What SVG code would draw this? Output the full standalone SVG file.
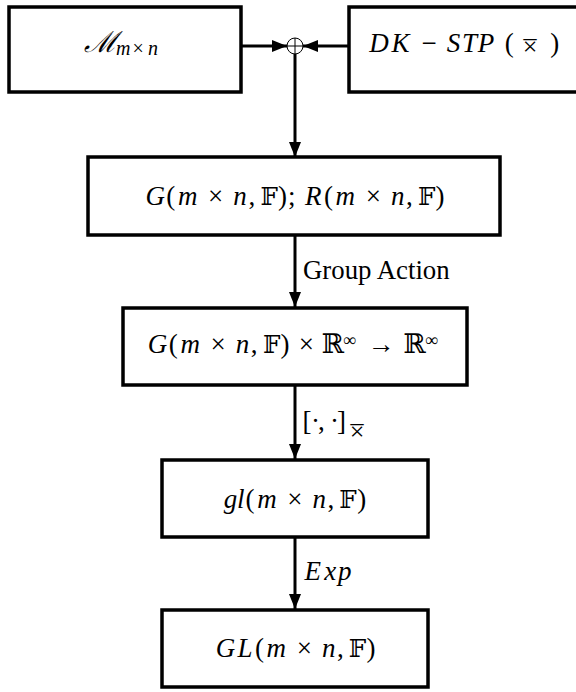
<svg xmlns="http://www.w3.org/2000/svg" width="576" height="692" viewBox="0 0 576 692">
<style>
.box{fill:#fff;stroke:#000;stroke-width:3.5}
.ln{stroke:#000;stroke-width:3;fill:none}
.m{font-family:"Liberation Serif","DejaVu Serif",serif;font-size:27px;font-style:italic;fill:#000}
.r{font-style:normal}
.bb{font-size:24.5px}
.lab{font-family:"Liberation Serif","DejaVu Serif",serif;font-size:26.8px;fill:#000}
.sym{font-family:"Liberation Serif","DejaVu Serif",serif;font-size:26px;fill:#000;text-anchor:middle}
</style>
<defs>
<marker id="ah" viewBox="0 0 15 12" refX="15" refY="6" markerWidth="15" markerHeight="12" markerUnits="userSpaceOnUse" orient="auto">
<path d="M0,0 L15,6 L0,12 z" fill="#000"/>
</marker>
</defs>
<g id="connectors">
<line class="ln" x1="241" y1="46" x2="287" y2="46" marker-end="url(#ah)"/>
<line class="ln" x1="349" y1="46" x2="303" y2="46" marker-end="url(#ah)"/>
<circle cx="295" cy="46" r="8" fill="none" stroke="#000" stroke-width="1"/>
<line x1="287" y1="46" x2="303" y2="46" stroke="#000" stroke-width="1"/>
<line x1="295" y1="38" x2="295" y2="54" stroke="#000" stroke-width="1"/>
<line class="ln" x1="295" y1="54" x2="295" y2="157" marker-end="url(#ah)"/>
<line class="ln" x1="295" y1="236" x2="295" y2="307" marker-end="url(#ah)"/>
<text class="lab" x="303" y="279">Group Action</text>
<line class="ln" x1="295" y1="386" x2="295" y2="459" marker-end="url(#ah)"/>
<text class="m r"><tspan x="302.5" y="430">[</tspan><tspan x="311">·</tspan><tspan x="318">,</tspan><tspan x="330">·</tspan><tspan x="337">]</tspan></text>
<text class="sym"><tspan x="357" y="439.5">×</tspan><tspan x="357" y="442.5">¯</tspan></text>
<line class="ln" x1="295" y1="538" x2="295" y2="609" marker-end="url(#ah)"/>
<text class="m" y="580"><tspan x="304.6">E</tspan><tspan x="324.3">x</tspan><tspan x="338">p</tspan></text>
</g>
<g id="node-M">
<rect class="box" x="9" y="7" width="232" height="85"/>
<text class="m"><tspan x="84" y="52" font-size="29">ℳ</tspan><tspan font-size="20" x="116" y="55">m</tspan><tspan class="r" font-size="20" x="132.5">×</tspan><tspan font-size="20" x="148">n</tspan></text>
</g>
<g id="node-DK">
<rect class="box" x="349" y="7" width="240" height="85"/>
<text class="m" y="52"><tspan x="369.3">D</tspan><tspan x="391.4">K</tspan><tspan class="r" x="421.5">−</tspan><tspan x="446.8">S</tspan><tspan x="462.1">T</tspan><tspan x="477.7">P</tspan><tspan class="r" x="504.7">(</tspan><tspan class="r" x="550.2">)</tspan></text>
<text class="sym"><tspan x="530" y="54.5">×</tspan><tspan x="530" y="57.5">¯</tspan></text>
</g>
<g id="node-G">
<rect class="box" x="88" y="157" width="412" height="78"/>
<text class="m" y="205"><tspan x="145.4">G</tspan><tspan class="r" x="166.3">(</tspan><tspan x="178">m</tspan><tspan class="r" x="208.1">×</tspan><tspan x="233.3">n</tspan><tspan class="r" x="248.4">,</tspan><tspan class="r bb" x="260.5">𝔽</tspan><tspan class="r" x="278">)</tspan><tspan class="r" x="288">;</tspan><tspan x="304.9">R</tspan><tspan class="r" x="323.9">(</tspan><tspan x="335.6">m</tspan><tspan class="r" x="365.8">×</tspan><tspan x="391">n</tspan><tspan class="r" x="406.1">,</tspan><tspan class="r bb" x="418.1">𝔽</tspan><tspan class="r" x="435.6">)</tspan></text>
</g>
<g id="node-action">
<rect class="box" x="123" y="308" width="344" height="77"/>
<text class="m" y="353"><tspan x="147.8">G</tspan><tspan class="r" x="168.7">(</tspan><tspan x="180.4">m</tspan><tspan class="r" x="210.5">×</tspan><tspan x="235.7">n</tspan><tspan class="r" x="250.8">,</tspan><tspan class="r bb" x="262.9">𝔽</tspan><tspan class="r" x="280.4">)</tspan><tspan class="r" x="298.8">×</tspan><tspan class="r" x="321.7">ℝ</tspan><tspan class="r" font-size="18" x="343" y="346">∞</tspan><tspan class="r" x="367.4" y="353">→</tspan><tspan class="r" x="403.5">ℝ</tspan><tspan class="r" font-size="18" x="425" y="346">∞</tspan></text>
</g>
<g id="node-gl">
<rect class="box" x="162" y="460" width="266" height="77"/>
<text class="m" y="508"><tspan x="223.7">g</tspan><tspan x="237.1">l</tspan><tspan class="r" x="245.5">(</tspan><tspan x="257.2">m</tspan><tspan class="r" x="287.3">×</tspan><tspan x="312.5">n</tspan><tspan class="r" x="327.6">,</tspan><tspan class="r bb" x="339.3">𝔽</tspan><tspan class="r" x="357.2">)</tspan></text>
</g>
<g id="node-GL">
<rect class="box" x="162" y="610" width="266" height="77"/>
<text class="m" y="657"><tspan x="215.7">G</tspan><tspan x="237.6">L</tspan><tspan class="r" x="254.9">(</tspan><tspan x="266.5">m</tspan><tspan class="r" x="296.7">×</tspan><tspan x="321.9">n</tspan><tspan class="r" x="337">,</tspan><tspan class="r bb" x="348.7">𝔽</tspan><tspan class="r" x="366.5">)</tspan></text>
</g>
</svg>
